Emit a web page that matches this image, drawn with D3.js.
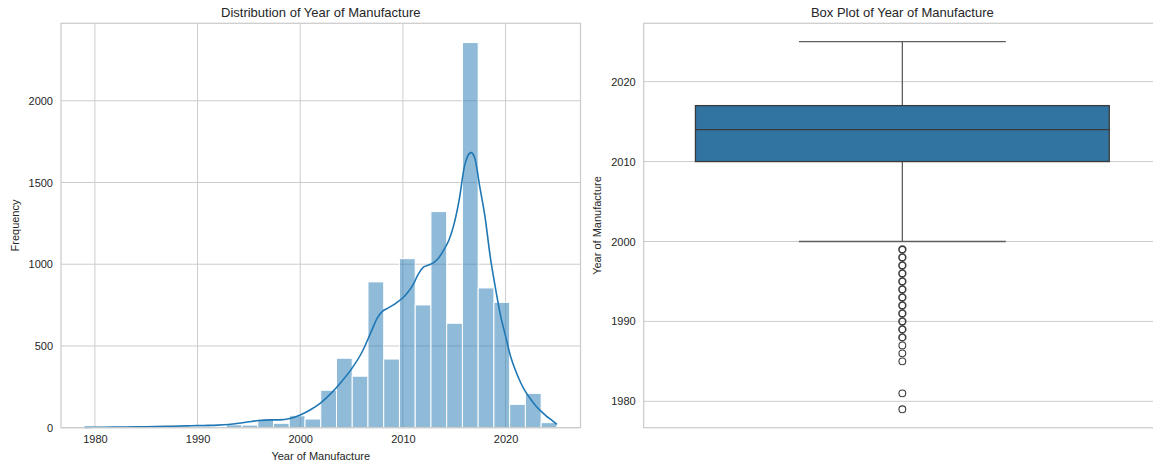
<!DOCTYPE html>
<html>
<head>
<meta charset="utf-8">
<script src="https://cdn.jsdelivr.net/npm/d3@7"></script>
<style>
  html, body { margin: 0; padding: 0; background: #fff; }
  svg { display: block; }
  text { font-family: "Liberation Sans", Arial, sans-serif; fill: #262626; }
</style>
</head>
<body>
<svg id="chart" width="1153" height="465"></svg>
<script>
// Histogram: 30 equal-width bins spanning the observed year range
const binStart = 1979;
const binEnd = 2025;
const binCounts = [3, 1, 0, 2, 3, 4, 5, 10, 7, 18, 16, 52, 27, 73, 53, 229, 425, 315, 892, 420,
                   1034, 751, 1322, 639, 2356, 855, 767, 143, 210, 31];

// Kernel density estimate, scaled to counts
const kdeYears  = [1979, 1981, 1983, 1985, 1987, 1989, 1990, 1991, 1992, 1993, 1994, 1995, 1996, 1997, 1998, 1999,
                   2000, 2001, 2002, 2003, 2004, 2005, 2006, 2007, 2007.5, 2008, 2008.5, 2009, 2009.5, 2010,
                   2010.5, 2011, 2011.5, 2012, 2012.5, 2013, 2013.5, 2014, 2014.5, 2015, 2015.5, 2016, 2016.3,
                   2016.65, 2017, 2017.5, 2018, 2018.5, 2019, 2019.5, 2020, 2020.5, 2021, 2021.5, 2022, 2022.5,
                   2023, 2023.5, 2024, 2024.5, 2025];
const kdeValues = [2, 3, 4, 6, 8, 11, 13, 14, 16, 20, 27, 36, 44, 48, 48, 56,
                   78, 110, 152, 210, 280, 360, 460, 600, 670, 712, 730, 748, 770, 795,
                   830, 875, 940, 982, 995, 1010, 1040, 1090, 1150, 1250, 1400, 1600, 1660,
                   1683, 1650, 1470, 1290, 1050, 860, 690, 560, 434, 345, 272, 215, 170,
                   130, 98, 70, 47, 21];

// Box plot summary
const boxQ1 = 2010, boxMedian = 2014, boxQ3 = 2017;
const whiskerLow = 2000, whiskerHigh = 2025;
const outlierYears = [1979, 1981, 1985, 1986, 1987, 1988, 1989, 1990, 1991, 1992, 1993, 1994, 1995, 1996, 1997, 1998, 1999];

const histXTicks = [1980, 1990, 2000, 2010, 2020];
const histYTicks = [0, 500, 1000, 1500, 2000];
const boxYTicks = [1980, 1990, 2000, 2010, 2020];

const svg = d3.select("#chart");
const grid = "#cccccc";
const blue = "#1f77b4";
const labelCol = "#333333";

const pad = (binEnd - binStart) * 0.05;
const yearDomain = [binStart - pad, binEnd + pad];

// ---------- Left: histogram with KDE ----------
const L = { left: 61, right: 580.5, top: 23.3, bottom: 427.7 };
const x1 = d3.scaleLinear().domain(yearDomain).range([L.left, L.right]);
const y1 = d3.scaleLinear().domain([0, d3.max(binCounts) * 1.05]).range([L.bottom, L.top]);

const g1 = svg.append("g");
// grid
g1.selectAll(".vg").data(histXTicks).join("line")
  .attr("x1", d => x1(d)).attr("x2", d => x1(d))
  .attr("y1", L.top).attr("y2", L.bottom)
  .attr("stroke", grid).attr("stroke-width", 1);
g1.selectAll(".hg").data(histYTicks).join("line")
  .attr("x1", L.left).attr("x2", L.right)
  .attr("y1", d => y1(d)).attr("y2", d => y1(d))
  .attr("stroke", grid).attr("stroke-width", 1);

// bars
const bw = (binEnd - binStart) / binCounts.length;
g1.selectAll(".bar").data(binCounts).join("rect")
  .attr("x", (d, i) => x1(binStart + i * bw))
  .attr("width", (d, i) => x1(binStart + (i + 1) * bw) - x1(binStart + i * bw))
  .attr("y", d => y1(d))
  .attr("height", d => y1(0) - y1(d))
  .attr("fill", blue).attr("fill-opacity", 0.5)
  .attr("stroke", "#ffffff").attr("stroke-width", 1);

// KDE line
const kdeLine = d3.line()
  .x(d => x1(d[0])).y(d => y1(d[1]))
  .curve(d3.curveMonotoneX);
g1.append("path")
  .datum(kdeYears.map((yr, i) => [yr, kdeValues[i]]))
  .attr("d", kdeLine)
  .attr("fill", "none").attr("stroke", blue).attr("stroke-width", 1.6);

// frame
g1.append("rect").attr("x", L.left).attr("y", L.top)
  .attr("width", L.right - L.left).attr("height", L.bottom - L.top)
  .attr("fill", "none").attr("stroke", grid).attr("stroke-width", 1.25);

// axes (labels only)
const ax1 = g1.append("g").attr("transform", `translate(0,${L.bottom})`)
  .call(d3.axisBottom(x1).tickValues(histXTicks).tickFormat(d3.format("d")).tickSize(0).tickPadding(8));
const ay1 = g1.append("g").attr("transform", `translate(${L.left},0)`)
  .call(d3.axisLeft(y1).tickValues(histYTicks).tickFormat(d3.format("d")).tickSize(0).tickPadding(8));
[ax1, ay1].forEach(a => {
  a.select(".domain").remove();
  a.selectAll("text").attr("font-size", 11).attr("fill", labelCol)
    .attr("font-family", '"Liberation Sans", Arial, sans-serif');
});

g1.append("text").attr("x", (L.left + L.right) / 2).attr("y", 17)
  .attr("text-anchor", "middle").attr("font-size", 13).text("Distribution of Year of Manufacture");
g1.append("text").attr("x", (L.left + L.right) / 2).attr("y", 460)
  .attr("text-anchor", "middle").attr("font-size", 11).attr("fill", labelCol).text("Year of Manufacture");
g1.append("text").attr("transform", `translate(19,${(L.top + L.bottom) / 2}) rotate(-90)`)
  .attr("text-anchor", "middle").attr("font-size", 11).attr("fill", labelCol).text("Frequency");

// ---------- Right: box plot ----------
const R = { left: 643.7, right: 1161, top: 23.3, bottom: 427.7 };
const x2 = d3.scaleLinear().domain([-0.5, 0.5]).range([R.left, R.right]);
const y2 = d3.scaleLinear().domain(yearDomain).range([R.bottom, R.top]);

const g2 = svg.append("g");
g2.selectAll(".hg2").data(boxYTicks).join("line")
  .attr("x1", R.left).attr("x2", R.right)
  .attr("y1", d => y2(d)).attr("y2", d => y2(d))
  .attr("stroke", grid).attr("stroke-width", 1);

const whiskerCol = "#5e5e5e";
const edgeCol = "#3a3a3a";
// whiskers
g2.append("line").attr("x1", x2(0)).attr("x2", x2(0))
  .attr("y1", y2(boxQ3)).attr("y2", y2(whiskerHigh))
  .attr("stroke", whiskerCol).attr("stroke-width", 1.3);
g2.append("line").attr("x1", x2(0)).attr("x2", x2(0))
  .attr("y1", y2(boxQ1)).attr("y2", y2(whiskerLow))
  .attr("stroke", whiskerCol).attr("stroke-width", 1.3);
[whiskerLow, whiskerHigh].forEach(v => {
  g2.append("line").attr("x1", x2(-0.2)).attr("x2", x2(0.2))
    .attr("y1", y2(v)).attr("y2", y2(v))
    .attr("stroke", whiskerCol).attr("stroke-width", 1.3);
});
// box
g2.append("rect").attr("x", x2(-0.4)).attr("width", x2(0.4) - x2(-0.4))
  .attr("y", y2(boxQ3)).attr("height", y2(boxQ1) - y2(boxQ3))
  .attr("fill", "#3274a1").attr("stroke", edgeCol).attr("stroke-width", 1.3);
g2.append("line").attr("x1", x2(-0.4)).attr("x2", x2(0.4))
  .attr("y1", y2(boxMedian)).attr("y2", y2(boxMedian))
  .attr("stroke", edgeCol).attr("stroke-width", 1.3);
// outliers
g2.selectAll(".out").data(outlierYears).join("circle")
  .attr("cx", x2(0)).attr("cy", d => y2(d)).attr("r", 3.4)
  .attr("fill", "none").attr("stroke", "#3d3d3d")
  .attr("stroke-width", d => d >= 1988 ? 1.6 : 1.1);

g2.append("rect").attr("x", R.left).attr("y", R.top)
  .attr("width", R.right - R.left).attr("height", R.bottom - R.top)
  .attr("fill", "none").attr("stroke", grid).attr("stroke-width", 1.25);

const ay2 = g2.append("g").attr("transform", `translate(${R.left},0)`)
  .call(d3.axisLeft(y2).tickValues(boxYTicks).tickFormat(d3.format("d")).tickSize(0).tickPadding(8));
ay2.select(".domain").remove();
ay2.selectAll("text").attr("font-size", 11).attr("fill", labelCol)
  .attr("font-family", '"Liberation Sans", Arial, sans-serif');

g2.append("text").attr("x", x2(0)).attr("y", 17)
  .attr("text-anchor", "middle").attr("font-size", 13).text("Box Plot of Year of Manufacture");
g2.append("text").attr("transform", `translate(601,${(R.top + R.bottom) / 2}) rotate(-90)`)
  .attr("text-anchor", "middle").attr("font-size", 11).attr("fill", labelCol).text("Year of Manufacture");
</script>
</body>
</html>
